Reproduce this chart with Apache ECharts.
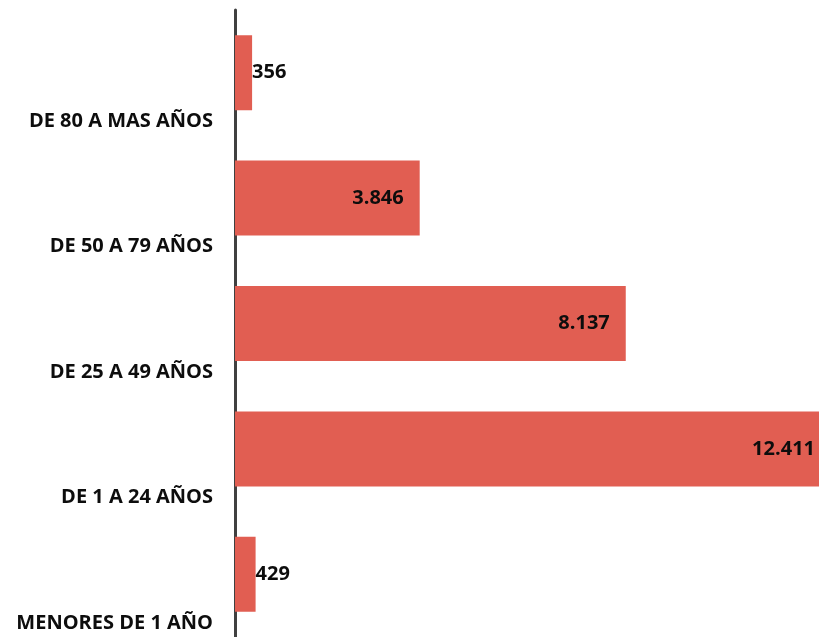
<!DOCTYPE html>
<html>
<head>
<meta charset="utf-8">
<script src="https://cdn.jsdelivr.net/npm/echarts@6/dist/echarts.min.js"></script>
<style>html,body{margin:0;padding:0;background:#fff}#c{width:819px;height:637px}</style>
</head>
<body>
<div id="c"></div>
<script>
const categories = ['MENORES DE 1 AÑO', 'DE 1 A 24 AÑOS', 'DE 25 A 49 AÑOS', 'DE 50 A 79 AÑOS', 'DE 80 A MAS AÑOS'];
const values = [429, 12411, 8137, 3846, 356];

function fmt(v) {
  return String(v).replace(/\B(?=(\d{3})+(?!\d))/g, '.');
}

const chart = echarts.init(document.getElementById('c'), null, {renderer: 'canvas'});
chart.setOption({
  animation: false,
  grid: {left: 235, right: -12, top: 10, bottom: 0, containLabel: false, outerBoundsMode: 'none'},
  xAxis: {
    type: 'value', min: 0, max: 12411,
    show: false
  },
  yAxis: {
    type: 'category',
    data: categories,
    axisLine: {show: true, lineStyle: {color: '#404040', width: 3}},
    axisTick: {show: false},
    splitLine: {show: false},
    axisLabel: {
      fontFamily: 'Open Sans', fontWeight: 'bold', fontSize: 20, color: '#0d0d0d',
      margin: 22, lineHeight: 97, interval: 0, hideOverlap: false,
      showMinLabel: true, showMaxLabel: true,
      formatter: v => '\n' + v
    }
  },
  series: [{
    type: 'bar',
    data: values.map(v => ({
      value: v,
      label: {position: v < 1000 ? 'right' : 'insideRight', distance: v < 1000 ? 0 : 16}
    })),
    barWidth: 75,
    itemStyle: {color: '#e15e52'},
    label: {
      show: true,
      fontFamily: 'Open Sans', fontWeight: 'bold', fontSize: 20, color: '#0d0d0d',
      formatter: p => fmt(p.value)
    }
  }]
});
</script>
</body>
</html>
